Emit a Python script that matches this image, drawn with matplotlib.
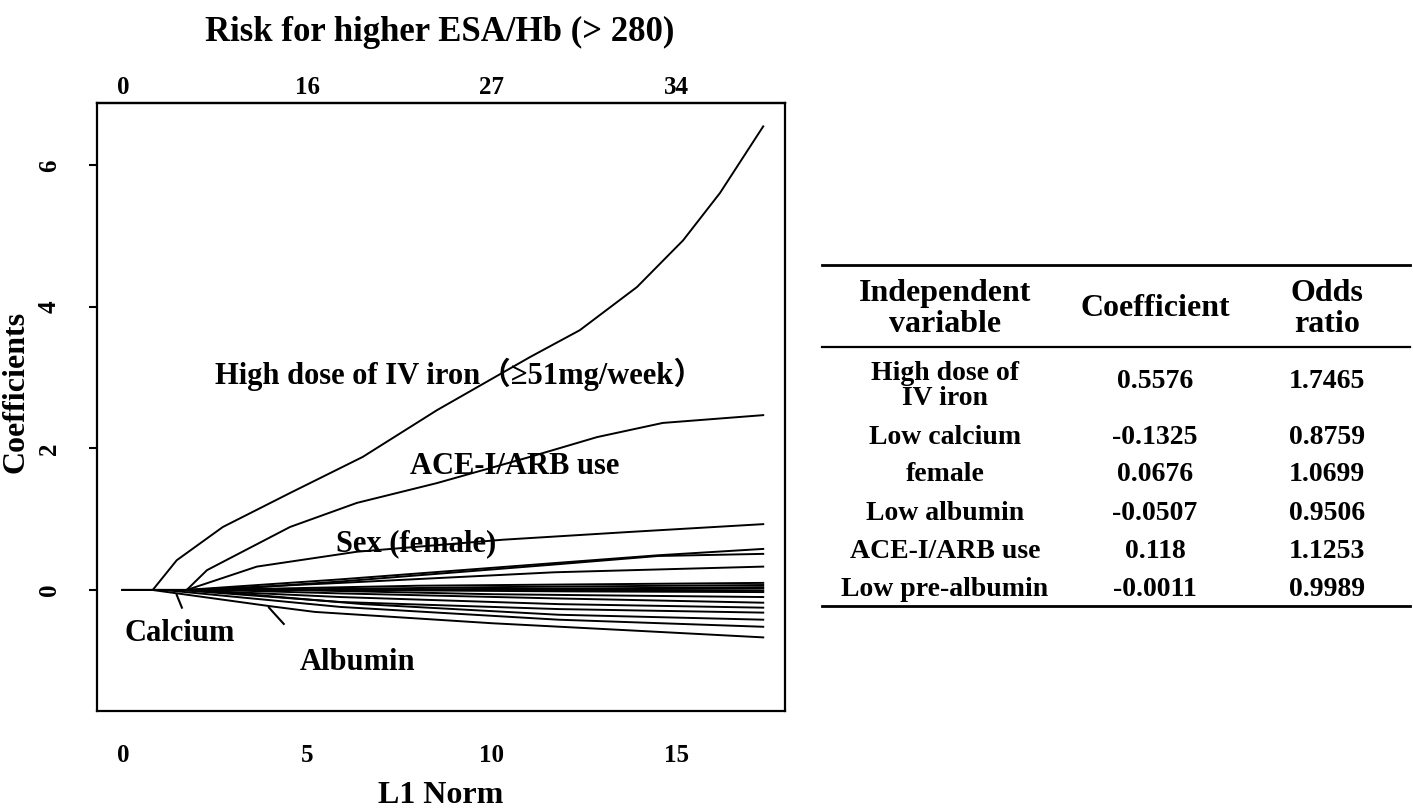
import matplotlib
matplotlib.use("Agg")
import matplotlib.pyplot as plt
from matplotlib.lines import Line2D

plt.rcParams['font.family'] = ['Liberation Serif', 'Noto Sans CJK SC']
plt.rcParams['font.weight'] = 'bold'
plt.rcParams['axes.labelweight'] = 'bold'

# lasso coefficient paths (L1 norm, coefficient)
path_l1 = [
    [0, 0.81, 1.46, 2.71, 4.53, 6.50, 8.51, 11.03, 12.38, 13.93, 15.18, 16.18, 17.35],  # IV iron
    [0, 1.73, 2.28, 4.53, 6.34, 8.51, 11.03, 12.85, 14.63, 17.35],  # ACE-I/ARB
    [0, 1.73, 3.63, 6.34, 10.3, 13.74, 17.35],  # sex
    [0, 1.7, 5.9, 11.7, 14.5, 17.35],
    [0, 2.6, 5.9, 11.7, 14.5, 17.35],
    [0, 1.8, 5.9, 11.7, 17.35],
    [0, 2.2, 8, 17.35],
    [0, 3.5, 10, 17.35],
    [0, 5, 12, 17.35],
    [0, 8, 17.35],
    [0, 11, 17.35],
    [0, 6, 12, 17.35],
    [0, 4.5, 10, 17.35],
    [0, 2.5, 6, 11.8, 17.35],
    [0, 1.7, 5.9, 11.8, 17.35],
    [0, 1.5, 5.9, 11.8, 17.35],
    [0, 2.0, 6.5, 11.8, 17.35],
    [0, 1.1, 5.9, 11.8, 17.35],  # calcium
    [0, 0.8, 4.0, 5.2, 10, 13.7, 17.35],  # albumin
]
path_coef = [
    [0, 0, 0.42, 0.89, 1.37, 1.88, 2.54, 3.29, 3.67, 4.28, 4.94, 5.61, 6.55],
    [0, 0, 0.28, 0.89, 1.23, 1.51, 1.88, 2.16, 2.36, 2.47],
    [0, 0, 0.33, 0.54, 0.71, 0.82, 0.93],
    [0, 0, 0.15, 0.38, 0.49, 0.58],
    [0, 0, 0.12, 0.36, 0.48, 0.51],
    [0, 0, 0.10, 0.25, 0.33],
    [0, 0, 0.06, 0.10],
    [0, 0, 0.04, 0.07],
    [0, 0, 0.02, 0.04],
    [0, 0, 0.02],
    [0, 0, -0.01],
    [0, 0, -0.02, -0.03],
    [0, 0, -0.06, -0.10],
    [0, 0, -0.05, -0.12, -0.18],
    [0, 0, -0.10, -0.20, -0.25],
    [0, 0, -0.17, -0.27, -0.32],
    [0, 0, -0.20, -0.35, -0.42],
    [0, 0, -0.24, -0.42, -0.52],
    [0, 0, -0.23, -0.31, -0.47, -0.57, -0.67],
]

bottom_ticks = [0, 5, 10, 15]
top_labels = ['0', '16', '27', '34']
y_ticks = [0, 2, 4, 6]

tbl_vars = ["High dose of\nIV iron", "Low calcium", "female", "Low albumin", "ACE-I/ARB use", "Low pre-albumin"]
tbl_coef = ["0.5576", "-0.1325", "0.0676", "-0.0507", "0.118", "-0.0011"]
tbl_or = ["1.7465", "0.8759", "1.0699", "0.9506", "1.1253", "0.9989"]

W, H = 1413, 809
fig = plt.figure(figsize=(W / 100, H / 100), dpi=100)
ax = fig.add_axes([97 / W, 1 - 711 / H, (785 - 97) / W, (711 - 103) / H])

for xs, ys in zip(path_l1, path_coef):
    ax.plot(xs, ys, color='black', lw=1.4)

# leader strokes for the two labels
ax.plot([1.46, 1.60], [-0.07, -0.25], color='black', lw=1.5)
ax.plot([3.96, 4.36], [-0.25, -0.48], color='black', lw=1.5)

ax.set_xlim(-0.70, 17.94)
ax.set_ylim(-1.71, 6.88)
for s in ax.spines.values():
    s.set_linewidth(1.6)

ax.set_xticks(bottom_ticks)
ax.set_xticklabels([str(t) for t in bottom_ticks], fontsize=18)
ax.tick_params(axis='x', length=0, pad=24)
ax.set_yticks(y_ticks)
ax.set_yticklabels([str(t) for t in y_ticks], fontsize=18, rotation=90, va='center')
ax.tick_params(axis='y', length=6, width=1.5, pad=20)

top = ax.secondary_xaxis('top')
top.set_xticks(bottom_ticks)
top.set_xticklabels(top_labels, fontsize=18)
top.tick_params(length=0, pad=3)
top.spines['top'].set_linewidth(1.6)

ax.set_xlabel("L1 Norm", fontsize=23)
ax.xaxis.set_label_coords(0.5, -0.115)
ax.set_ylabel("Coefficients", fontsize=23)
ax.yaxis.set_label_coords(-0.097, 0.525)
fig.text(440 / W, 1 - 32 / H, "Risk for higher ESA/Hb (> 280)", fontsize=25,
         ha='center', va='center')

lab = dict(fontsize=22, va='center', ha='left')
ax.text(2.49, 3.04, "High dose of IV iron（≥51mg/week）", **lab)
ax.text(7.78, 1.74, "ACE-I/ARB use", **lab)
ax.text(5.77, 0.66, "Sex (female)", **lab)
ax.text(0.05, -0.61, "Calcium", **lab)
ax.text(4.80, -1.03, "Albumin", **lab)

# table on the right
def fx(px):
    return px / W

def fy(py):
    return 1 - py / H

for py, lw in [(265, 2.0), (347, 1.6), (606, 2.0)]:
    fig.add_artist(Line2D([fx(822), fx(1410)], [fy(py), fy(py)], color='black', lw=lw))

col_x = [945, 1155, 1327]
fig.text(fx(col_x[0]), fy(309), "Independent\nvariable", fontsize=23, ha='center', va='center', linespacing=1.1)
fig.text(fx(col_x[1]), fy(309), "Coefficient", fontsize=23, ha='center', va='center')
fig.text(fx(col_x[2]), fy(309), "Odds\nratio", fontsize=23, ha='center', va='center', linespacing=1.1)

row_y = [386, 437, 475, 513, 551, 589]
for i, py in enumerate(row_y):
    vy = py - 4 if i == 0 else py
    fig.text(fx(col_x[0]), fy(py), tbl_vars[i], fontsize=20, ha='center', va='center', linespacing=1.05)
    fig.text(fx(col_x[1]), fy(vy), tbl_coef[i], fontsize=20, ha='center', va='center')
    fig.text(fx(col_x[2]), fy(vy), tbl_or[i], fontsize=20, ha='center', va='center')

fig.savefig("out.png", dpi=100)
